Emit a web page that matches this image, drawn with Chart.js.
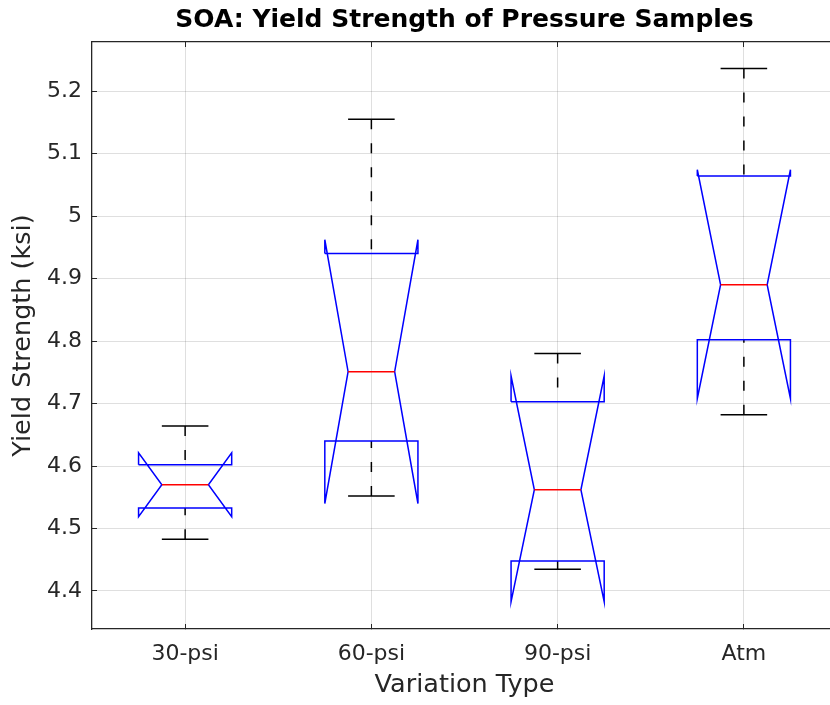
<!DOCTYPE html>
<html>
<head>
<meta charset="utf-8">
<script src="https://cdn.jsdelivr.net/npm/chart.js@4"></script>
<style>
body { margin: 0; overflow: hidden; background: #fff; }
#wrap { width: 840px; height: 705px; }
</style>
</head>
<body>
<div id="wrap"><canvas id="box-chart"></canvas></div>
<script>
var categories = ['30-psi', '60-psi', '90-psi', 'Atm'];
var upperWhisker = [4.664, 5.155, 4.780, 5.236];
var q3 = [4.602, 4.940, 4.703, 5.064];
var median = [4.570, 4.751, 4.562, 4.890];
var q1 = [4.533, 4.640, 4.448, 4.802];
var lowerWhisker = [4.483, 4.552, 4.435, 4.682];
var notchHigh = [4.621, 4.962, 4.744, 5.074];
var notchLow = [4.519, 4.540, 4.383, 4.708];
var yTicks = [4.4, 4.5, 4.6, 4.7, 4.8, 4.9, 5.0, 5.1, 5.2];

var boxHalf = 0.25, notchHalf = 0.125, capHalf = 0.125;
var textColor = '#262626';
var gridColor = 'rgba(38,38,38,0.15)';

function seg(points, color, dash) {
    return {
        data: points,
        showLine: true,
        borderColor: color,
        borderWidth: 1.5,
        borderDash: dash || [],
        pointRadius: 0,
        pointHoverRadius: 0,
        fill: false,
        tension: 0
    };
}

var datasets = [];
categories.forEach(function (c, i) {
    var x = i + 1;
    datasets.push(seg([{x: x - notchHalf, y: median[i]}, {x: x + notchHalf, y: median[i]}], '#ff0000'));
    datasets.push(seg([
        {x: x - boxHalf, y: q3[i]}, {x: x - boxHalf, y: notchHigh[i]},
        {x: x - notchHalf, y: median[i]}, {x: x - boxHalf, y: notchLow[i]},
        {x: x - boxHalf, y: q1[i]}, {x: x + boxHalf, y: q1[i]},
        {x: x + boxHalf, y: notchLow[i]}, {x: x + notchHalf, y: median[i]},
        {x: x + boxHalf, y: notchHigh[i]}, {x: x + boxHalf, y: q3[i]},
        {x: x - boxHalf, y: q3[i]}
    ], '#0000ff'));
    datasets.push(seg([{x: x, y: upperWhisker[i]}, {x: x, y: q3[i]}], '#000000', [10, 14]));
    datasets.push(seg([{x: x, y: lowerWhisker[i]}, {x: x, y: q1[i]}], '#000000', [10, 14]));
    datasets.push(seg([{x: x - capHalf, y: upperWhisker[i]}, {x: x + capHalf, y: upperWhisker[i]}], '#000000'));
    datasets.push(seg([{x: x - capHalf, y: lowerWhisker[i]}, {x: x + capHalf, y: lowerWhisker[i]}], '#000000'));
});

function catTicks(scale) {
    scale.ticks = categories.map(function (c, i) { return {value: i + 1}; });
}

var boxChart = new Chart(document.getElementById('box-chart'), {
    type: 'scatter',
    data: { datasets: datasets },
    options: {
        responsive: true,
        maintainAspectRatio: false,
        animation: false,
        layout: { padding: { left: 0, right: 3, top: 0, bottom: 0 } },
        plugins: {
            legend: { display: false },
            tooltip: { enabled: false }
        },
        scales: {
            x: {
                type: 'linear',
                position: 'bottom',
                min: 0.5,
                max: 4.5,
                afterBuildTicks: catTicks,
                afterFit: function (s) { s.height = 76; },
                grid: { color: gridColor, drawTicks: true, tickLength: -5, tickColor: textColor, tickWidth: 1 },
                border: { color: textColor, width: 1.3 },
                ticks: {
                    padding: 17,
                    color: textColor,
                    font: { family: 'DejaVu Sans', size: 22 },
                    callback: function (v) { return categories[Math.round(v) - 1]; }
                },
                title: {
                    display: true,
                    text: 'Variation Type',
                    color: textColor,
                    font: { family: 'DejaVu Sans', size: 25.5 },
                    padding: { top: 0, bottom: 4 }
                }
            },
            xTop: {
                type: 'linear',
                position: 'top',
                min: 0.5,
                max: 4.5,
                afterBuildTicks: catTicks,
                afterFit: function (s) { s.height = 42; },
                grid: { drawOnChartArea: false, drawTicks: true, tickLength: -5, tickColor: textColor },
                border: { color: textColor, width: 1.3 },
                ticks: { display: false },
                title: {
                    display: true,
                    text: 'SOA: Yield Strength of Pressure Samples',
                    color: '#000000',
                    font: { family: 'DejaVu Sans', size: 25, weight: 'bold' },
                    padding: { top: 5, bottom: 0 }
                }
            },
            y: {
                type: 'linear',
                position: 'left',
                min: 4.3392,
                max: 5.2784,
                afterBuildTicks: function (s) {
                    s.ticks = yTicks.map(function (v) { return {value: v}; });
                },
                afterFit: function (s) { s.width = 92; },
                grid: { color: gridColor, drawTicks: true, tickLength: -5, tickColor: textColor },
                border: { color: textColor, width: 1.3 },
                ticks: {
                    padding: 15,
                    color: textColor,
                    font: { family: 'DejaVu Sans', size: 22 },
                    callback: function (v) { return String(Math.round(v * 10) / 10); }
                },
                title: {
                    display: true,
                    text: 'Yield Strength (ksi)',
                    color: textColor,
                    font: { family: 'DejaVu Sans', size: 25.5 },
                    padding: { top: 8, bottom: 0 }
                }
            }
        }
    }
});
</script>
</body>
</html>
